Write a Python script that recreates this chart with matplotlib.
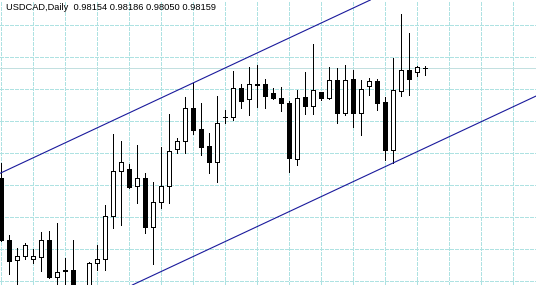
import numpy as np
import matplotlib
matplotlib.use("Agg")
from matplotlib import pyplot as plt

# daily USDCAD bars, oldest first (prices)
opens = [0.96509, 0.95579, 0.95279, 0.95339, 0.95294, 0.95324, 0.95579, 0.95024, 0.95114, 0.95129,
         0.94799, 0.94829, 0.95234, 0.95294, 0.95939, 0.96614, 0.96644, 0.96389, 0.96509, 0.95774,
         0.96149, 0.96389, 0.96944, 0.97064, 0.97559, 0.97244, 0.96989, 0.96749, 0.97419, 0.97424,
         0.97859, 0.97694, 0.97904, 0.97919, 0.97784, 0.97709, 0.97634, 0.96794, 0.97724, 0.97589,
         0.97799, 0.97709, 0.97979, 0.97484, 0.97994, 0.97484, 0.97889, 0.97964, 0.97649, 0.96929,
         0.97814, 0.98129, 0.98099, 0.98154]
highs = [0.96734, 0.95654, 0.95459, 0.95534, 0.95444, 0.95699, 0.95714, 0.95834, 0.95309, 0.95579,
         0.94874, 0.95249, 0.95504, 0.96104, 0.97169, 0.97064, 0.96719, 0.97004, 0.96584, 0.96449,
         0.96974, 0.97469, 0.97109, 0.97724, 0.97934, 0.97634, 0.97184, 0.97739, 0.97529, 0.98114,
         0.97919, 0.98174, 0.98204, 0.97994, 0.97859, 0.97874, 0.97664, 0.97829, 0.98099, 0.98519,
         0.97799, 0.98174, 0.98159, 0.98204, 0.98129, 0.97979, 0.98009, 0.97994, 0.97724, 0.98309,
         0.98969, 0.98684, 0.98189, 0.98186]
lows = [0.95564, 0.95069, 0.94844, 0.95294, 0.95234, 0.95114, 0.95009, 0.94829, 0.94799, 0.94739,
        0.94679, 0.94700, 0.95129, 0.95129, 0.95759, 0.95804, 0.96359, 0.96134, 0.95684, 0.95219,
        0.96059, 0.96134, 0.96884, 0.96884, 0.97169, 0.96854, 0.96584, 0.96449, 0.97334, 0.97379,
        0.97559, 0.97454, 0.97574, 0.97559, 0.97694, 0.97514, 0.96599, 0.96704, 0.97469, 0.97469,
        0.97679, 0.97694, 0.97334, 0.97454, 0.97274, 0.97154, 0.97754, 0.97529, 0.96779, 0.96734,
        0.97739, 0.97754, 0.98039, 0.98050]
closes = [0.95579, 0.95264, 0.95339, 0.95504, 0.95339, 0.95579, 0.95024, 0.95099, 0.95129, 0.94799,
          0.94739, 0.95234, 0.95294, 0.95939, 0.96614, 0.96749, 0.96374, 0.96509, 0.95774, 0.96149,
          0.96389, 0.96914, 0.97064, 0.97559, 0.97229, 0.96974, 0.96749, 0.97334, 0.97424, 0.97859,
          0.97664, 0.97919, 0.97919, 0.97739, 0.97709, 0.97634, 0.96809, 0.97709, 0.97589, 0.97829,
          0.97709, 0.97979, 0.97484, 0.97979, 0.97484, 0.97844, 0.97964, 0.97634, 0.96929, 0.97829,
          0.98129, 0.97994, 0.98174, 0.98159]

# equidistant channel: two points on the upper line, one on the lower line
upper_bars = [0, 24]
upper_prices = [0.96586, 0.97934]
lower_bar = 49
lower_price = 0.96734

title = "USDCAD,Daily  0.98154 0.98186 0.98050 0.98159"
bid = closes[-1]

o = np.array(opens)
h = np.array(highs)
l = np.array(lows)
c = np.array(closes)
x = np.arange(len(o))

fig = plt.figure(figsize=(5.36, 2.85), dpi=100)
ax = fig.add_axes([0, 0, 1, 1])
ax.set_xlim(-0.125, 66.875)
ax.set_ylim(0.94904, 0.99179)
ax.set_axis_off()

px = 0.72  # one pixel in points
grid_col = "#aee2e2"
for gy in np.arange(0.98804, 0.9488, -0.0048):
    ax.axhline(gy, color=grid_col, lw=px, dashes=(3, 2), antialiased=False, zorder=0)
for gx in range(0, 68, 4):
    ax.axvline(gx, color=grid_col, lw=px, dashes=(3, 2), antialiased=False, zorder=0)
ax.axhline(bid, color="#c2e0e0", lw=px, antialiased=False, zorder=0.5)

# wicks, then bodies
ax.vlines(x, l, h, color="black", lw=px, antialiased=False, zorder=2)
up = c >= o
body_lo = np.minimum(o, c)
body_h = np.abs(c - o)
ax.bar(x[up], body_h[up], bottom=body_lo[up], width=0.6,
       color="white", edgecolor="black", lw=px, antialiased=False, zorder=3)
ax.bar(x[~up], body_h[~up], bottom=body_lo[~up], width=0.6,
       color="black", edgecolor="black", lw=px, antialiased=False, zorder=3)

# channel lines
slope = (upper_prices[1] - upper_prices[0]) / (upper_bars[1] - upper_bars[0])
ax.axline((upper_bars[0], upper_prices[0]), slope=slope, color="#1a1a9c", lw=0.8, zorder=4)
ax.axline((lower_bar, lower_price), slope=slope, color="#1a1a9c", lw=0.8, zorder=4)

ax.text(6 / 536, 1 - 10 / 285, title, transform=ax.transAxes,
        fontsize=6.7, family="Liberation Sans", va="baseline", ha="left", zorder=5)

fig.savefig("out.png", dpi=100, facecolor="white")
